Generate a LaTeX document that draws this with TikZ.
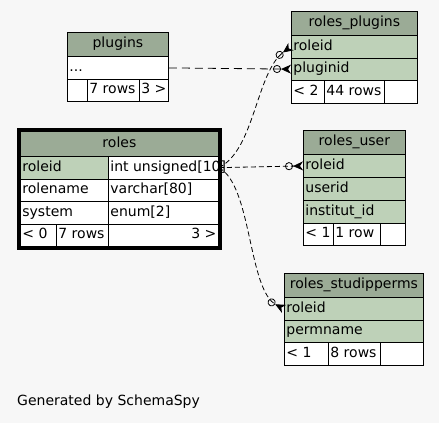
\documentclass[tikz,border=0pt]{standalone}
\usepackage{fontspec}
\setmainfont{DejaVu Sans}
\usetikzlibrary{arrows.meta,fit,backgrounds}
\definecolor{bgc}{HTML}{F7F7F7}
\definecolor{hdbg}{HTML}{9BAB96}
\definecolor{keybg}{HTML}{BED1B8}
% cell text: width, alignment, text
\newcommand{\cbox}[3][l]{\makebox[#2pt][#1]{\hspace{2pt}#3\hspace{2pt}}}
\begin{document}
\begin{tikzpicture}[x=1pt,y=-1pt,
    tcell/.style={draw,rectangle,inner sep=0pt,anchor=north west,line width=0.8pt,
      text height=10pt,text depth=3pt,font=\fontsize{14}{16}\selectfont},
    hdcell/.style={tcell,fill=hdbg},
    keycell/.style={tcell,fill=keybg},
    plcell/.style={tcell,fill=white},
    fk/.style={line width=0.8pt,dash pattern=on 5pt off 3pt,
      -{Circle[open,length=8pt,width=8pt,line width=0.8pt] Stealth[reversed,length=10pt,width=9pt,inset=3pt]}}]
  % plugins
  \node[hdcell,minimum height=24pt] (pl-h) at (67,32) {\cbox[c]{101}{plugins}};
  \node[plcell,minimum height=23pt] (pl-dots) at (67,56) {\cbox{101}{...}};
  \node[plcell,minimum height=22pt] (pl-f1) at (67,79) {\cbox{20}{}};
  \node[plcell,minimum height=22pt] (pl-f2) at (87,79) {\cbox{52}{7 rows}};
  \node[plcell,minimum height=22pt] (pl-f3) at (139,79) {\cbox{29}{3 >}};
  % roles
  \node[hdcell,minimum height=25pt] (r-h) at (20,131) {\cbox[c]{198}{roles}};
  \node[keycell,minimum height=22.5pt] (r-rid) at (20,156) {\cbox{88}{roleid}};
  \node[plcell,minimum height=22.5pt] (r-rid-t) at (108,156) {\cbox{110}{int unsigned[10]}};
  \node[plcell,minimum height=22.5pt] (r-rn) at (20,178.5) {\cbox{88}{rolename}};
  \node[plcell,minimum height=22.5pt] (r-rn-t) at (108,178.5) {\cbox{110}{varchar[80]}};
  \node[plcell,minimum height=22.5pt] (r-sys) at (20,201) {\cbox{88}{system}};
  \node[plcell,minimum height=22.5pt] (r-sys-t) at (108,201) {\cbox{110}{enum[2]}};
  \node[plcell,minimum height=22.5pt] (r-f1) at (20,223.5) {\cbox{36}{< 0}};
  \node[plcell,minimum height=22.5pt] (r-f2) at (56,223.5) {\cbox{52}{7 rows}};
  \node[plcell,minimum height=22.5pt] (r-f3) at (108,223.5) {\cbox[r]{110}{3 >}};
  % roles_plugins
  \node[hdcell,minimum height=24pt] (rp-h) at (291,11) {\cbox[c]{126}{roles\_plugins}};
  \node[keycell,minimum height=22.5pt] (rp-rid) at (291,35) {\cbox{126}{roleid}};
  \node[keycell,minimum height=22.5pt] (rp-pid) at (291,57.5) {\cbox{126}{pluginid}};
  \node[plcell,minimum height=23pt] (rp-f1) at (291,80) {\cbox{33}{< 2}};
  \node[plcell,minimum height=23pt] (rp-f2) at (324,80) {\cbox{60}{44 rows}};
  \node[plcell,minimum height=23pt] (rp-f3) at (384,80) {\cbox{33}{}};
  % roles_user
  \node[hdcell,minimum height=24pt] (ru-h) at (303,130) {\cbox[c]{102}{roles\_user}};
  \node[keycell,minimum height=23pt] (ru-rid) at (303,154) {\cbox{102}{roleid}};
  \node[keycell,minimum height=23pt] (ru-uid) at (303,177) {\cbox{102}{userid}};
  \node[keycell,minimum height=22.5pt] (ru-iid) at (303,200) {\cbox{102}{institut\_id}};
  \node[plcell,minimum height=22.5pt] (ru-f1) at (303,222.5) {\cbox{30}{< 1}};
  \node[plcell,minimum height=22.5pt] (ru-f2) at (333,222.5) {\cbox{47}{1 row}};
  \node[plcell,minimum height=22.5pt] (ru-f3) at (380,222.5) {\cbox{25}{}};
  % roles_studipperms
  \node[hdcell,minimum height=24pt] (rs-h) at (284,273) {\cbox[c]{139}{roles\_studipperms}};
  \node[keycell,minimum height=23pt] (rs-rid) at (284,297) {\cbox{139}{roleid}};
  \node[keycell,minimum height=22pt] (rs-pn) at (284,320) {\cbox{139}{permname}};
  \node[plcell,minimum height=23pt] (rs-f1) at (284,342) {\cbox{44}{< 1}};
  \node[plcell,minimum height=23pt] (rs-f2) at (328,342) {\cbox{52}{8 rows}};
  \node[plcell,minimum height=23pt] (rs-f3) at (380,342) {\cbox{43}{}};
  % page and frame of the selected table, behind the cells
  \begin{scope}[on background layer]
    \fill[bgc] (0,0) rectangle (439,423);
    \node[draw,line width=3pt,inner sep=1.5pt,fit=(r-h)(r-f3)] (roles) {};
  \end{scope}
  % relations
  \draw[fk] (r-rid-t.east) .. controls (255,150) and (256,72) .. (rp-rid.west);
  \draw[fk] (r-rid-t.east) -- (ru-rid.west);
  \draw[fk] (r-rid-t.east) .. controls (252,185) and (248,290) .. (rs-rid.west);
  \draw[fk,dash pattern=on 8pt off 5pt] (pl-dots.east) -- (rp-pid.west);
  \node[anchor=base west,inner sep=0pt,font=\fontsize{14}{16}\selectfont] (credit) at (17,405) {Generated by SchemaSpy};
\end{tikzpicture}
\end{document}
